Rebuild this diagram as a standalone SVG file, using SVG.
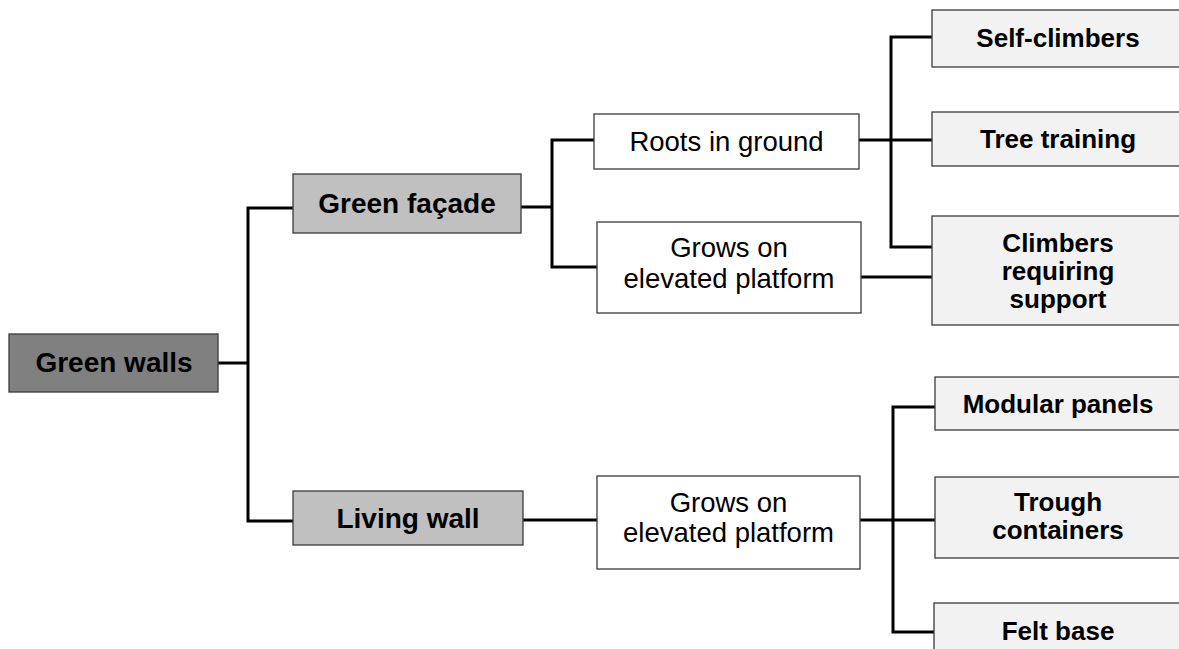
<svg xmlns="http://www.w3.org/2000/svg" width="1179" height="649" viewBox="0 0 1179 649">
<style>
.box{stroke:#3a3a3a;stroke-width:1.3}
.root{fill:#808080}
.mid{fill:#c0c0c0}
.plain{fill:#ffffff}
.leaf{fill:#f2f2f2}
.t{font-family:"Liberation Sans",Arial,sans-serif;fill:#000;text-anchor:middle}
.b28{font-size:28px;font-weight:bold}
.r27{font-size:27.5px}
.b26{font-size:26px;font-weight:bold}
.conn{stroke:#000;stroke-width:3;fill:none;stroke-linecap:square;stroke-linejoin:miter}
</style>
<rect width="1179" height="649" fill="#ffffff"/>
<g id="connectors">
<path class="conn" d="M218,363 H248 M248,208 V521 M248,208 H293 M248,521 H293"/>
<path class="conn" d="M521,207 H552 M552,140 V267 M552,140 H594 M552,267 H597"/>
<path class="conn" d="M859,140 H932 M891,37 V247 M891,37 H932 M891,247 H932 M861,277 H932"/>
<path class="conn" d="M523,520 H597 M861,520 H935 M893,407 V632 M893,407 H935 M893,632 H935"/>
</g>
<g id="green-walls"><rect class="box root" x="9" y="334" width="209" height="58"/><text class="t b28" x="114" y="372">Green walls</text></g>
<g id="green-facade"><rect class="box mid" x="293" y="174" width="228" height="59"/><text class="t b28" x="407" y="213">Green façade</text></g>
<g id="living-wall"><rect class="box mid" x="293" y="491" width="230" height="54"/><text class="t b28" x="408" y="528">Living wall</text></g>
<g id="roots-in-ground"><rect class="box plain" x="594" y="114" width="265" height="55"/><text class="t r27" x="726.5" y="151">Roots in ground</text></g>
<g id="grows-elevated-1"><rect class="box plain" x="597" y="222" width="264" height="91"/><text class="t r27" x="729" y="257">Grows on</text><text class="t r27" x="729" y="288">elevated platform</text></g>
<g id="grows-elevated-2"><rect class="box plain" x="597" y="476" width="263" height="93"/><text class="t r27" x="728.5" y="512">Grows on</text><text class="t r27" x="728.5" y="542">elevated platform</text></g>
<g id="self-climbers"><rect class="box leaf" x="932" y="10" width="252" height="57"/><text class="t b26" x="1058" y="47">Self-climbers</text></g>
<g id="tree-training"><rect class="box leaf" x="932" y="112" width="252" height="54"/><text class="t b26" x="1058" y="148">Tree training</text></g>
<g id="climbers-support"><rect class="box leaf" x="932" y="216" width="252" height="109"/><text class="t b26" x="1058" y="252">Climbers</text><text class="t b26" x="1058" y="280">requiring</text><text class="t b26" x="1058" y="308">support</text></g>
<g id="modular-panels"><rect class="box leaf" x="935" y="377" width="249" height="53"/><text class="t b26" x="1058" y="413">Modular panels</text></g>
<g id="trough-containers"><rect class="box leaf" x="935" y="477" width="249" height="81"/><text class="t b26" x="1058" y="511">Trough</text><text class="t b26" x="1058" y="539">containers</text></g>
<g id="felt-base"><rect class="box leaf" x="934" y="603" width="250" height="60"/><text class="t b26" x="1058" y="640">Felt base</text></g>
</svg>
